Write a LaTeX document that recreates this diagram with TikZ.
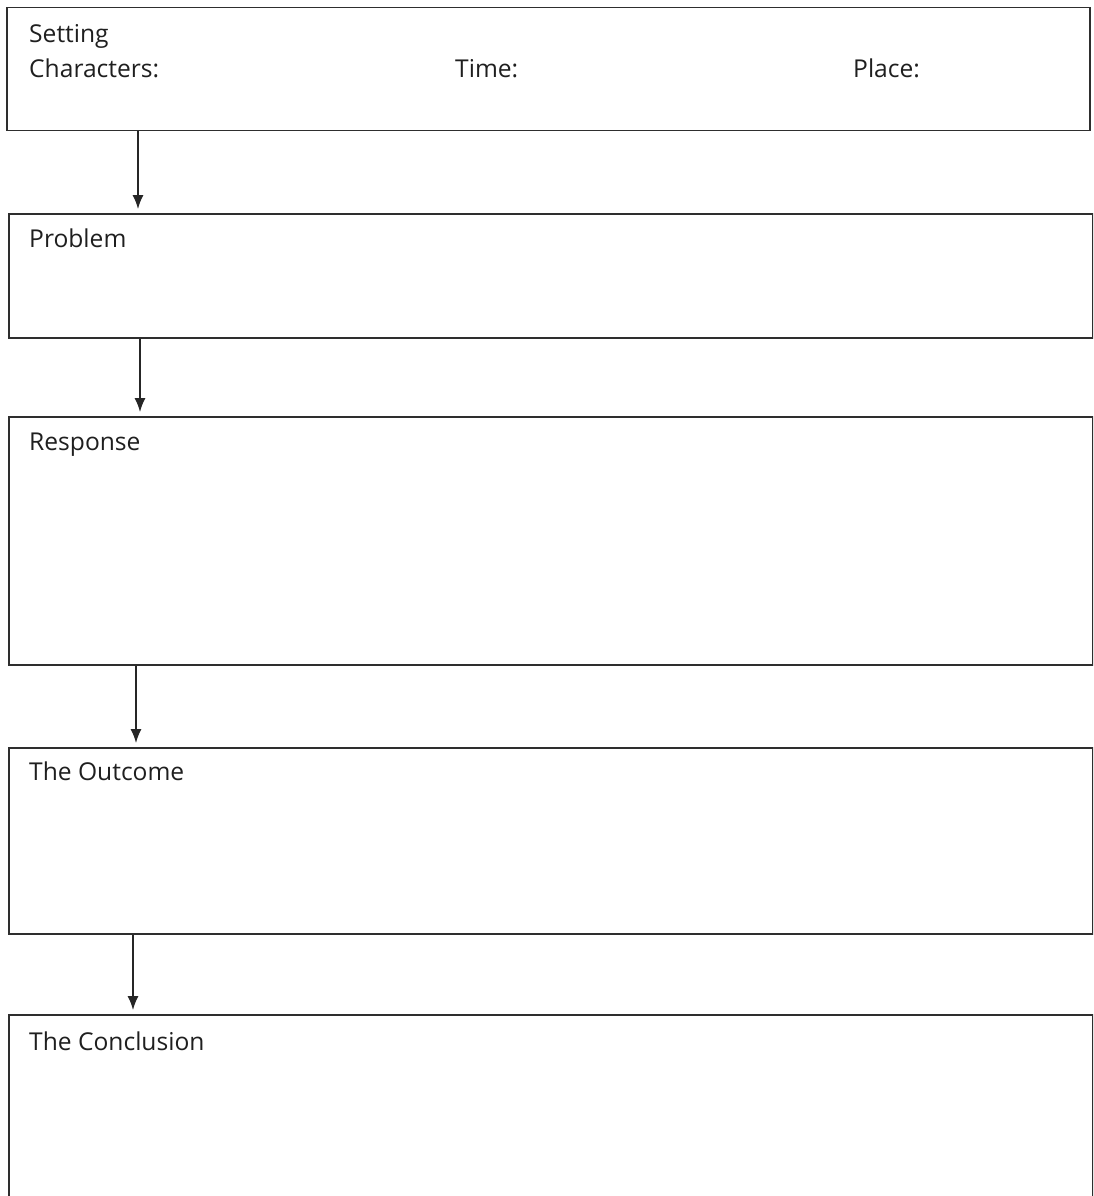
\documentclass[tikz,border=0pt]{standalone}
\usepackage{fontspec}
\setmainfont{Open Sans}
\usetikzlibrary{arrows.meta}
\tikzset{
  frame/.style={draw=black!82, line width=1.5pt, inner sep=0pt, anchor=north west, rectangle},
  lbl/.style={anchor=base west, inner sep=0pt, text=black!88, font=\fontsize{24.6}{29}\selectfont},
  arr/.style={draw=black!85, line width=1.3pt, -{Latex[length=14pt,width=11pt]}, shorten >=4pt}
}
\begin{document}
\begin{tikzpicture}[x=1pt,y=-1pt]
\useasboundingbox (0,0) rectangle (1093,1196);
\clip (0,0) rectangle (1093,1196);
\node[frame, minimum width=1083pt, minimum height=123pt] (b1) at (6,7) {};
\node[frame, minimum width=1084pt, minimum height=124pt] (b2) at (8,213) {};
\node[frame, minimum width=1084pt, minimum height=248pt] (b3) at (8,416) {};
\node[frame, minimum width=1084pt, minimum height=186pt] (b4) at (8,747) {};
\node[frame, minimum width=1084pt, minimum height=260pt] (b5) at (8,1014) {};
\node[lbl] (t1) at (29,43) {Setting};
\node[lbl] (t1c) at (29,78) {Characters:};
\node[lbl] (t1t) at (455,78) {Time:};
\node[lbl] (t1p) at (853,78) {Place:};
\node[lbl] (t2) at (29,247) {Problem};
\node[lbl] (t3) at (29,450) {Response};
\node[lbl] (t4) at (29,780) {The Outcome};
\node[lbl] (t5) at (29,1050) {The Conclusion};
\coordinate (a1) at (138,0);
\coordinate (a2) at (140,0);
\coordinate (a3) at (136,0);
\coordinate (a4) at (133,0);
\draw[arr] (b1.south -| a1) -- (b2.north -| a1);
\draw[arr] (b2.south -| a2) -- (b3.north -| a2);
\draw[arr] (b3.south -| a3) -- (b4.north -| a3);
\draw[arr] (b4.south -| a4) -- (b5.north -| a4);
\end{tikzpicture}
\end{document}
